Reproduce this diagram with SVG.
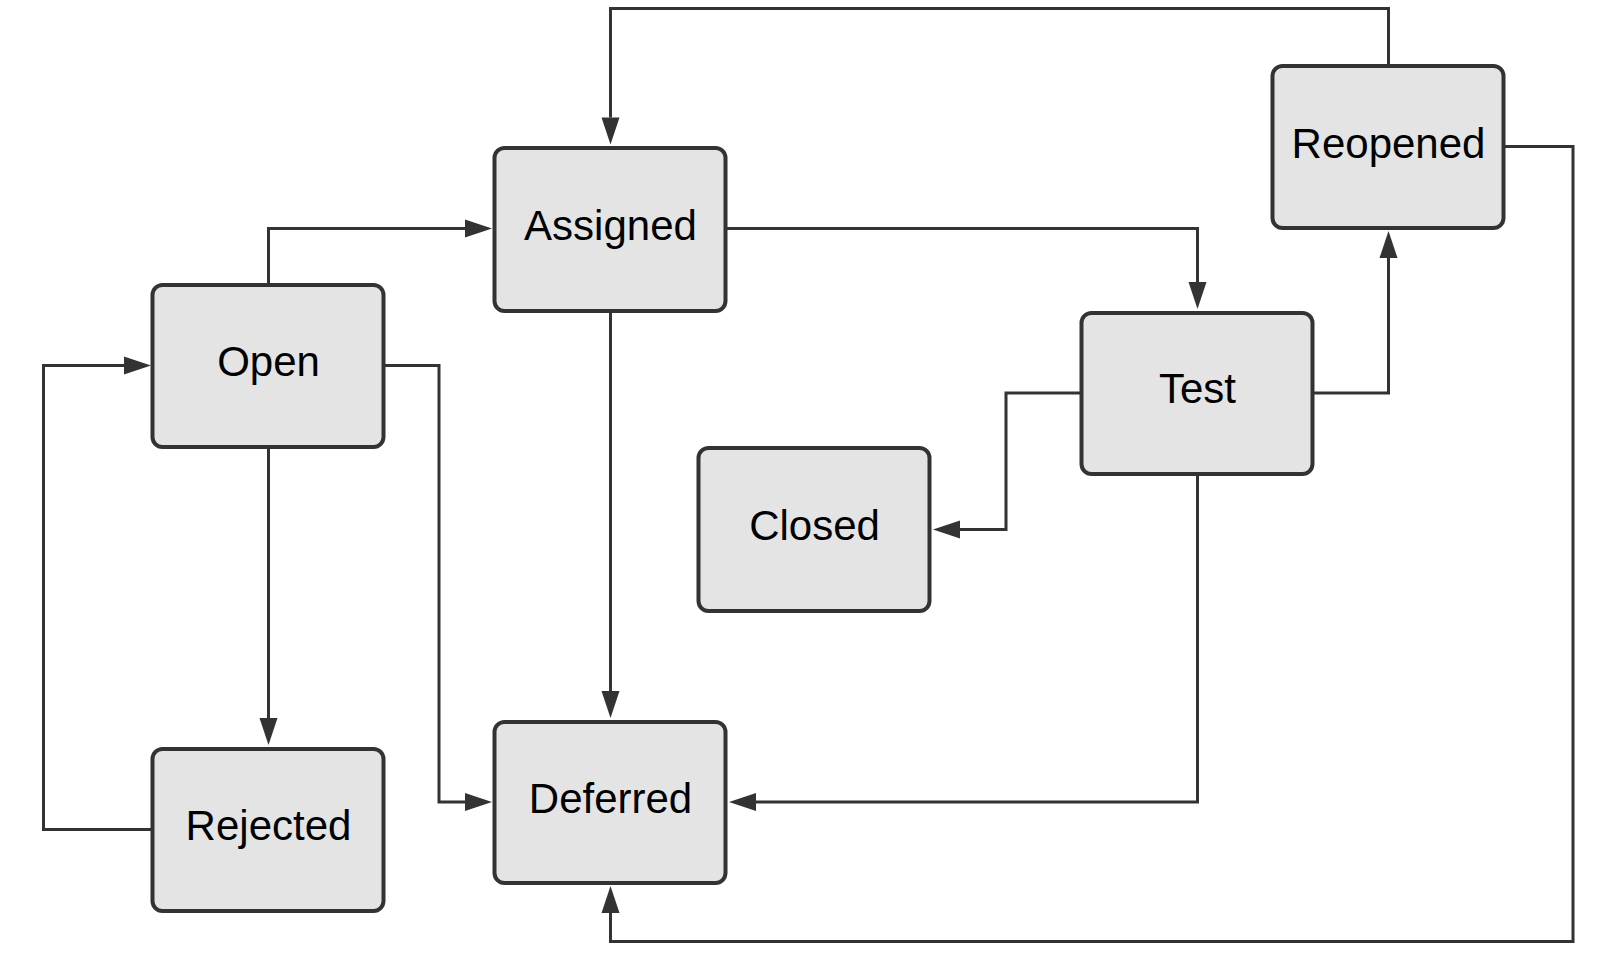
<svg xmlns="http://www.w3.org/2000/svg" width="1600" height="975" viewBox="0 0 1600 975">
<style>
.node rect{fill:#e4e4e4;stroke:#333333;stroke-width:4}
.node text{font-family:"Liberation Sans",Arial,sans-serif;font-size:42px;fill:#000000;text-anchor:middle}
.conn path{fill:none;stroke:#333333;stroke-width:3;marker-end:url(#arrow)}
</style>
<defs>
<marker id="arrow" markerUnits="userSpaceOnUse" markerWidth="28" markerHeight="18" refX="0" refY="9" orient="auto" overflow="visible">
<path d="M0,0 L27,9 L0,18 Z" fill="#333333"/>
</marker>
</defs>
<rect width="1600" height="975" fill="#ffffff"/>
<g id="connectors" class="conn">
<path d="M1388.5,64 V8.5 H610.5 V117.5"/>
<path d="M268.5,283 V228.5 H465"/>
<path d="M727,228.5 H1197.5 V282"/>
<path d="M610.5,312 V691"/>
<path d="M268.5,448 V718"/>
<path d="M152,829.5 H43.5 V365.5 H124"/>
<path d="M385,365.5 H439 V802 H465"/>
<path d="M1081,393 H1006 V529.5 H960"/>
<path d="M1313,393 H1388.5 V258"/>
<path d="M1197.5,475 V802 H756"/>
<path d="M1504,146.5 H1573 V941.5 H610.5 V913"/>
</g>
<g id="node-assigned" class="node"><rect x="494.5" y="148" width="231" height="163" rx="10"/><text x="610.5" y="239.5">Assigned</text></g>
<g id="node-open" class="node"><rect x="152.5" y="285" width="231" height="162" rx="10"/><text x="268.5" y="376">Open</text></g>
<g id="node-rejected" class="node"><rect x="152.5" y="749" width="231" height="162" rx="10"/><text x="268.5" y="839.5">Rejected</text></g>
<g id="node-deferred" class="node"><rect x="494.5" y="722" width="231" height="161" rx="10"/><text x="610.5" y="813">Deferred</text></g>
<g id="node-closed" class="node"><rect x="698.5" y="448" width="231" height="163" rx="10"/><text x="814.5" y="540">Closed</text></g>
<g id="node-test" class="node"><rect x="1081.5" y="313" width="231" height="161" rx="10"/><text x="1197.5" y="403">Test</text></g>
<g id="node-reopened" class="node"><rect x="1272.5" y="66" width="231" height="162" rx="10"/><text x="1388.5" y="158">Reopened</text></g>
</svg>
